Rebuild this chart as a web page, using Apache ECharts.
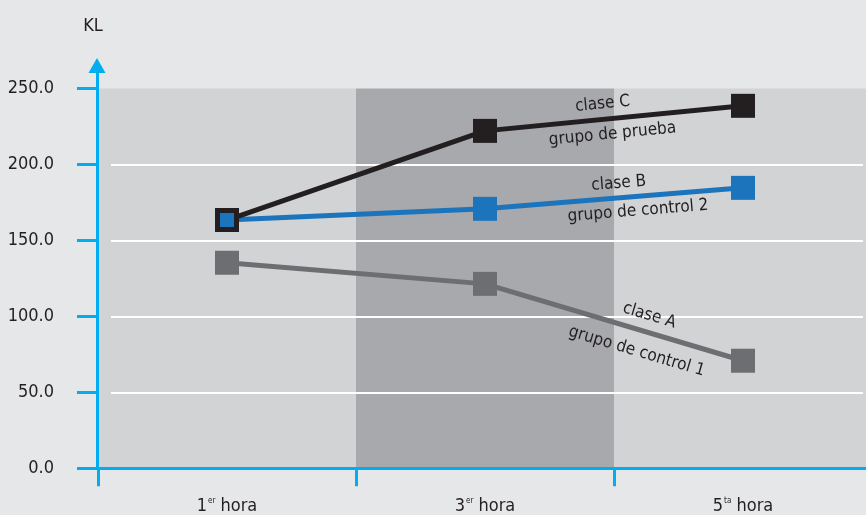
<!DOCTYPE html>
<html><head><meta charset="utf-8">
<script src="https://cdn.jsdelivr.net/npm/echarts@6/dist/echarts.min.js"></script>
<style>html,body{margin:0;padding:0;background:#e6e7e8;} #c{width:866px;height:515px;}</style>
</head><body><div id="c"></div>
<script>
// ---- data ----
const categories = ['1er hora', '3er hora', '5ta hora'];
const claseA = [135.3, 121.4, 70.8];
const claseB = [163.4, 170.8, 184.6];
const claseC = [163.4, 222.1, 238.6];
const yTicks = [0, 50, 100, 150, 200, 250];
const labelsA = ['clase A', 'grupo de control 1'];
const labelsB = ['clase B', 'grupo de control 2'];
const labelsC = ['clase C', 'grupo de prueba'];
const yName = 'KL';

// ---- style ----
const FONT = "'Liberation Sans Narrow','DejaVu Sans Condensed','Liberation Sans',sans-serif";
const TXT = '#231f20';
const AXIS = '#00aeef';
const BLACK = '#231f20', BLUE = '#1c75bc', GRAY = '#6d6e71';
const yMin = yTicks[0], yMax = yTicks[yTicks.length - 1], yStep = yTicks[1] - yTicks[0];
const TOP = 88.5, BOTTOM = 46.7;

function shiftPad(s) { return s >= 0 ? [0, 0, 0, 2 * s] : [0, -2 * s, 0, 0]; }
function segLabels(vals, texts, cfg) {
  const mk = (text, pos, dist, shift) => {
    const label = { show: true, position: pos, formatter: text, distance: dist, color: TXT,
      fontFamily: FONT, fontSize: 17, padding: shiftPad(shift), opacity: 1 };
    return [{ coord: [1, vals[1]], label }, { coord: [2, vals[2]], label }];
  };
  return {
    silent: true, animation: false, symbol: ['none', 'none'],
    lineStyle: { color: 'rgba(0,0,0,0)', width: 1, type: 'solid' },
    emphasis: { disabled: true },
    data: [mk(texts[0], 'insideMiddleTop', cfg[0], cfg[1]), mk(texts[1], 'insideMiddleBottom', cfg[2], cfg[3])]
  };
}

const chart = echarts.init(document.getElementById('c'));
chart.setOption({
  backgroundColor: '#e6e7e8',
  animation: false,
  grid: [
    { left: 98, width: 774, top: TOP, bottom: BOTTOM, containLabel: false, outerBoundsMode: 'none' },
    { left: 111, right: 3, top: TOP, bottom: BOTTOM, containLabel: false, outerBoundsMode: 'none' },
    { left: 97, right: 10, top: 65.5, bottom: BOTTOM, containLabel: false, outerBoundsMode: 'none' }
  ],
  xAxis: [
    { gridIndex: 0, type: 'category', data: categories, boundaryGap: true, z: 0,
      axisLine: { show: true, lineStyle: { color: AXIS, width: 3 } },
      axisTick: { show: true, length: 18, lineStyle: { color: AXIS, width: 3 } },
      axisLabel: { margin: 29, color: TXT, fontFamily: FONT, fontSize: 18,
        formatter: v => { const m = v.match(/^(\d)(\S+) (.*)$/); return '{n|' + m[1] + '}{s|' + m[2] + '}{n| ' + m[3] + '}'; },
        rich: { n: { fontFamily: FONT, fontSize: 18, color: TXT },
                s: { fontFamily: FONT, fontSize: 8, color: TXT, verticalAlign: 'top', padding: [0, 0, 0, 1] } } },
      splitLine: { show: false },
      splitArea: { show: true, areaStyle: { color: ['#d1d3d4', '#a7a9ac'] } } },
    { gridIndex: 1, type: 'category', data: categories, show: false },
    { gridIndex: 2, type: 'category', data: categories, show: false }
  ],
  yAxis: [
    { gridIndex: 0, type: 'value', min: yMin, max: yMax, interval: yStep, z: 0,
      axisLine: { show: false },
      axisTick: { show: true, length: 21, lineStyle: { color: AXIS, width: 3 } },
      axisLabel: { margin: 44, color: TXT, fontFamily: FONT, fontSize: 18, formatter: v => v.toFixed(1) },
      splitLine: { show: false } },
    { gridIndex: 1, type: 'value', min: yMin, max: yMax, interval: yStep, z: 1,
      axisLine: { show: false }, axisTick: { show: false }, axisLabel: { show: false },
      splitLine: { show: true, showMinLine: false, showMaxLine: false, lineStyle: { color: '#ffffff', width: 2 } } },
    { gridIndex: 2, type: 'value', min: 0, max: 1, z: 3,
      name: yName, nameLocation: 'end', nameGap: 30,
      nameTextStyle: { color: TXT, fontFamily: FONT, fontSize: 18, padding: [0, 8, 0, 0] },
      axisLine: { show: true, symbol: ['none', 'triangle'], symbolSize: [17, 15], lineStyle: { color: AXIS, width: 3 } },
      axisTick: { show: false }, axisLabel: { show: false }, splitLine: { show: false } }
  ],
  series: [
    { type: 'line', name: 'clase A', xAxisIndex: 0, yAxisIndex: 0, data: claseA,
      symbol: 'rect', symbolSize: 24, color: GRAY, lineStyle: { color: GRAY, width: 5 },
      itemStyle: { color: GRAY }, markLine: segLabels(claseA, labelsA, [8, 32, 13, 30]) },
    { type: 'line', name: 'clase B', xAxisIndex: 0, yAxisIndex: 0,
      data: claseB.map((v, i) => i === 0 ? { value: v, symbolSize: 14 } : v),
      symbol: 'rect', symbolSize: 24, color: BLUE, lineStyle: { color: BLUE, width: 5 },
      itemStyle: { color: BLUE }, markLine: segLabels(claseB, labelsB, [6, 6, 6, 23]) },
    { type: 'line', name: 'clase C', xAxisIndex: 0, yAxisIndex: 0,
      data: claseC.map((v, i) => i === 0 ? { value: v, symbolSize: 19, itemStyle: { color: BLUE, borderColor: BLACK, borderWidth: 5 } } : v),
      symbol: 'rect', symbolSize: 24, color: BLACK, lineStyle: { color: BLACK, width: 5 },
      itemStyle: { color: BLACK }, markLine: segLabels(claseC, labelsC, [7, -10, 7, -3]) }
  ]
});
</script>
</body></html>
